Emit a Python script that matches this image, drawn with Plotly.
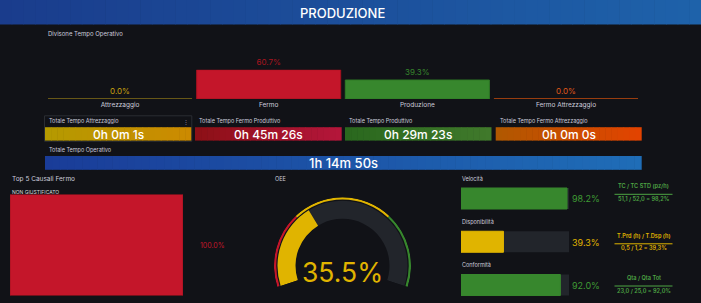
import plotly.graph_objects as go

W, H = 701, 303
BG = "#111217"
TXT = "#ccccdc"
FONT = "Inter, Roboto, sans-serif"

# ---------------- data ----------------
header_title = "PRODUZIONE"
div_title = "Divisone Tempo Operativo"
div_categories = ["Attrezzaggio", "Fermo", "Produzione", "Fermo Attrezzaggio"]
div_values = [0.0, 60.7, 39.3, 0.0]
div_fill = ["#e0b400", "#c4162a", "#37872d", "#e0591a"]
div_line = ["#6e5c18", "#a3121f", "#2f7a26", "#a2400f"]
div_text = ["#c9a20e", "#a8141f", "#37872d", "#e0591a"]

stat_titles = ["Totale Tempo Attrezzaggio", "Totale Tempo Fermo Produttivo",
               "Totale Tempo Produttivo", "Totale Tempo Fermo Attrezzaggio"]
stat_values = ["0h 0m 1s", "0h 45m 26s", "0h 29m 23s", "0h 0m 0s"]
stat_grad = [("#b59a00", "#cc8a00"), ("#8c1016", "#b5163b"),
             ("#2a681e", "#40792b"), ("#b05800", "#e34300")]

oper_title = "Totale Tempo Operativo"
oper_value = "1h 14m 50s"

causali_title = "Top 5 Causali Fermo"
causali = ["NON GIUSTIFICATO"]
causali_values = [100.0]

oee_title = "OEE"
oee_value = 35.5
oee_steps = [0, 30, 70, 100]
oee_step_colors = ["#c4162a", "#e0b400", "#37872d"]

kpi_names = ["Velocità", "Disponibilità", "Conformità"]
kpi_values = [98.2, 39.3, 92.0]
kpi_colors = ["#37872d", "#e0b400", "#37872d"]
kpi_text_colors = ["#3f9a34", "#e0b400", "#3f9a34"]
kpi_formula_titles = ["TC / TC STD (pz/h)", "T.Prd (h) / T.Dsp (h)", "Qta / Qta Tot"]
kpi_formula_values = ["51,1 / 52,0 = 98,2%", "0,5 / 1,2 = 39,3%", "23,0 / 25,0 = 92,0%"]
kpi_formula_colors = ["#4ea544", "#e0b400", "#4ea544"]


# ---------------- helpers ----------------
def fx(x):
    return x / W


def fy(y):
    return 1 - y / H


def lerp(c1, c2, t):
    a = [int(c1[i:i + 2], 16) for i in (1, 3, 5)]
    b = [int(c2[i:i + 2], 16) for i in (1, 3, 5)]
    return "#" + "".join(f"{round(a[k] + (b[k] - a[k]) * t):02x}" for k in range(3))


shapes = []
annotations = []


def grad_rect(x0, y0, x1, y1, c1, c2, n):
    for i in range(n):
        a = x0 + (x1 - x0) * i / n
        b = x0 + (x1 - x0) * (i + 1) / n + (0.6 if i < n - 1 else 0)
        shapes.append(dict(type="rect", xref="paper", yref="paper", layer="below",
                           x0=fx(a), x1=fx(b), y0=fy(y1), y1=fy(y0),
                           fillcolor=lerp(c1, c2, (i + 0.5) / n), line=dict(width=0)))


def text(x, y, s, size, color, anchor="left", weight=400):
    annotations.append(dict(x=fx(x), y=fy(y), xref="paper", yref="paper", text=s,
                            showarrow=False, xanchor=anchor, yanchor="middle",
                            font=dict(family=FONT, size=size, color=color, weight=weight),
                            borderpad=0))


# ---------------- header ----------------
grad_rect(0, 0, W, 24.5, "#1a3c8c", "#1e62aa", 60)
text(342, 12.5, header_title, 13, "#ffffff", "center", 500)

# ---------------- division chart ----------------
text(47, 34, div_title, 6, TXT)

fig = go.Figure()
fig.add_trace(go.Bar(
    x=div_categories, y=div_values, width=0.969,
    marker=dict(color=div_fill, line=dict(color=div_line, width=1)),
    text=[f"{v:.1f}%" for v in div_values], textposition="outside",
    textfont=dict(family=FONT, size=8, color=div_text), cliponaxis=False,
    xaxis="x", yaxis="y", hoverinfo="skip"))
for i, v in enumerate(div_values):
    if v == 0:
        shapes.append(dict(type="line", xref="x", yref="y", x0=i - 0.4845, x1=i + 0.4845,
                           y0=0, y1=0, line=dict(color=div_line[i], width=1.5)))

# ---------------- stat panels ----------------
stat_x = [(45, 191.3), (195, 341.7), (345, 491.5), (495.7, 641.7)]
shapes.append(dict(type="rect", xref="paper", yref="paper", layer="below",
                   x0=fx(44.5), x1=fx(191.8), y0=fy(141.3), y1=fy(115.8),
                   fillcolor="rgba(0,0,0,0)", line=dict(color="#2a2d33", width=1)))
text(186.3, 121, "⋮", 6, "#8e8e9a", "center")
for (x0, x1), t, v, (c1, c2) in zip(stat_x, stat_titles, stat_values, stat_grad):
    grad_rect(x0, 127.2, x1, 140.6, c1, c2, 24)
    text(x0 + 3, 121, t, 5.5, TXT)
    text((x0 + x1) / 2, 134, v, 12, "#ffffff", "center", 500)

# ---------------- total operativo ----------------
text(48, 150, oper_title, 5.5, TXT)
grad_rect(45, 156, 641.7, 169.8, "#1a3c98", "#1f6db7", 80)
text(343, 163, oper_value, 13, "#ffffff", "center", 500)

# ---------------- top 5 causali ----------------
text(10.5, 178.5, causali_title, 6.5, TXT)
text(10.5, 191.5, causali[0], 5, "#d8d9da")
fig.add_trace(go.Bar(
    x=causali_values, y=causali, orientation="h", width=1,
    marker=dict(color="#c4162a", line=dict(color="#a3121f", width=1)),
    xaxis="x2", yaxis="y2", hoverinfo="skip"))
text(212, 245, f"{causali_values[0]:.1f}%", 7, "#c4162a", "center")

# ---------------- OEE gauge ----------------
text(273.5, 179, oee_title, 5.5, TXT)
span = 216.0
fig.add_trace(go.Barpolar(r=[18], base=[47], theta=[span / 2], width=[span],
                          marker=dict(color="#22252b", line=dict(width=0)),
                          subplot="polar", hoverinfo="skip"))
fig.add_trace(go.Barpolar(r=[18], base=[47], theta=[oee_value * span / 200],
                          width=[oee_value * span / 100],
                          marker=dict(color="#e0b400", line=dict(width=0)),
                          subplot="polar", hoverinfo="skip"))
th_c, th_w = [], []
for a, b in zip(oee_steps[:-1], oee_steps[1:]):
    th_c.append((a + b) / 2 * span / 100)
    th_w.append((b - a) * span / 100)
fig.add_trace(go.Barpolar(r=[2.3] * 3, base=[66.2] * 3, theta=th_c, width=th_w,
                          marker=dict(color=oee_step_colors, line=dict(width=0)),
                          subplot="polar", hoverinfo="skip"))
text(342.5, 271.5, f"{oee_value:.1f}%", 26.5, "#e0b400", "center", 400)

# ---------------- KPI bar gauges ----------------
fig.add_trace(go.Bar(x=[100] * len(kpi_names), y=kpi_names, orientation="h", width=0.486,
                     marker=dict(color="#22252b", line=dict(width=0)),
                     xaxis="x3", yaxis="y3", hoverinfo="skip"))
fig.add_trace(go.Bar(x=kpi_values, y=kpi_names, orientation="h", width=0.486,
                     marker=dict(color=kpi_colors, line=dict(color=kpi_colors, width=1)),
                     xaxis="x3", yaxis="y3", hoverinfo="skip"))
label_y = [178.5, 222, 264.8]
bar_y = [198.5, 242, 285]
ftitle_y = [186, 236, 278.3]
fline_y = [194.3, 243.8, 286]
fval_y = [198.8, 248.3, 291]
for i in range(len(kpi_names)):
    text(461, label_y[i], kpi_names[i], 5.5, TXT)
    text(586, bar_y[i], f"{kpi_values[i]:.1f}%", 9, kpi_text_colors[i], "center")
    text(643.5, ftitle_y[i], kpi_formula_titles[i], 5.6, kpi_formula_colors[i], "center", 600)
    text(643.5, fval_y[i], kpi_formula_values[i], 5.6, kpi_formula_colors[i], "center", 600)
    shapes.append(dict(type="line", xref="paper", yref="paper",
                       x0=fx(614.5), x1=fx(672.5), y0=fy(fline_y[i]), y1=fy(fline_y[i]),
                       line=dict(color=kpi_formula_colors[i], width=1)))

# ---------------- layout ----------------
hidden = dict(visible=False, showgrid=False, zeroline=False, fixedrange=True)
fig.update_layout(
    width=W, height=H, margin=dict(l=0, r=0, t=0, b=0, pad=0),
    paper_bgcolor=BG, plot_bgcolor="rgba(0,0,0,0)",
    showlegend=False, barmode="overlay",
    font=dict(family=FONT, color=TXT),
    xaxis=dict(domain=[fx(45.7), fx(640.3)], showgrid=False, zeroline=False,
               showline=False, ticks="", tickfont=dict(family=FONT, size=6.5, color=TXT),
               ticklabelstandoff=0, fixedrange=True),
    yaxis=dict(domain=[fy(99), fy(69.7)], range=[0, 60.7], **hidden),
    xaxis2=dict(domain=[fx(10), fx(183)], range=[0, 100], **hidden),
    yaxis2=dict(domain=[fy(295.5), fy(194.5)], range=[-0.5, 0.5], **hidden),
    xaxis3=dict(domain=[fx(461), fx(569)], range=[0, 100], **hidden),
    yaxis3=dict(domain=[fy(298), fy(186)], range=[2.30, -0.289], type="category", **hidden),
    polar=dict(domain=dict(x=[fx(274), fx(411)], y=[fy(287), fy(197.3)]),
               sector=[-18, 198], hole=0, bgcolor="rgba(0,0,0,0)", barmode="overlay",
               radialaxis=dict(visible=False, range=[0, 68.5]),
               angularaxis=dict(visible=False, rotation=198, direction="clockwise")),
    shapes=shapes, annotations=annotations,
)

fig.write_html("out.html")
